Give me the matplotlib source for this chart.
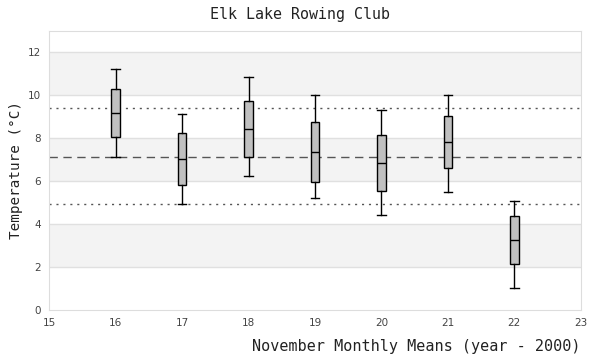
import matplotlib.pyplot as plt
import numpy as np

# November monthly means, year - 2000
years = [16, 17, 18, 19, 20, 21, 22]
whisker_low = [7.10, 4.92, 6.22, 5.19, 4.40, 5.47, 1.01]
q1 = [8.03, 5.80, 7.10, 5.94, 5.52, 6.59, 2.12]
median = [9.16, 7.02, 8.40, 7.33, 6.82, 7.81, 3.24]
q3 = [10.26, 8.22, 9.71, 8.73, 8.12, 9.01, 4.36]
whisker_high = [11.20, 9.10, 10.82, 9.98, 9.29, 9.98, 5.09]

overall_mean = 7.10
band_low, band_high = 4.92, 9.38

stats = []
for i, yr in enumerate(years):
    stats.append({'whislo': whisker_low[i], 'q1': q1[i], 'med': median[i],
                  'q3': q3[i], 'whishi': whisker_high[i], 'fliers': []})

fig = plt.figure(figsize=(6, 3.6), dpi=100)
ax = fig.add_axes([0.082, 0.139, 0.886, 0.776])

ax.set_xlim(15, 23)
ax.set_ylim(0, 13)

# alternating horizontal bands
for lo in [2, 6, 10]:
    ax.axhspan(lo, lo + 2, color='#f3f3f3', zorder=0, lw=0)
for y in range(2, 13, 2):
    ax.axhline(y, color='#e0e0e0', lw=1, zorder=1)

ax.axhline(overall_mean, color='#555555', lw=1, ls=(0, (6, 4)), zorder=2)
ax.axhline(band_high, color='#555555', lw=1, ls=(0, (1.5, 3.5)), zorder=2)
ax.axhline(band_low, color='#555555', lw=1, ls=(0, (1.5, 3.5)), zorder=2)

ax.bxp(stats, positions=years, widths=0.13, capwidths=0.13, patch_artist=True,
       showfliers=False, manage_ticks=False,
       boxprops=dict(facecolor='#c0c0c0', edgecolor='black', lw=1),
       medianprops=dict(color='black', lw=1),
       whiskerprops=dict(color='black', lw=1),
       capprops=dict(color='black', lw=1), zorder=3)

ax.set_xticks(np.arange(15, 24, 1))
ax.set_yticks(np.arange(0, 13, 2))
ax.tick_params(length=0, labelsize=7.5, labelcolor='#444444', pad=6)
for s in ax.spines.values():
    s.set_color('#dddddd')

fig.text(0.5, 0.96, 'Elk Lake Rowing Club', family='DejaVu Sans Mono',
         fontsize=10.8, color='#222222', ha='center', va='center')
ax.set_xlabel('November Monthly Means (year - 2000)', family='DejaVu Sans Mono',
              fontsize=10.9, color='#222222', loc='right', labelpad=8)
ax.set_ylabel('Temperature (°C)', family='DejaVu Sans Mono', fontsize=10.3,
              color='#222222', labelpad=3)

fig.savefig('out.png', dpi=100)
